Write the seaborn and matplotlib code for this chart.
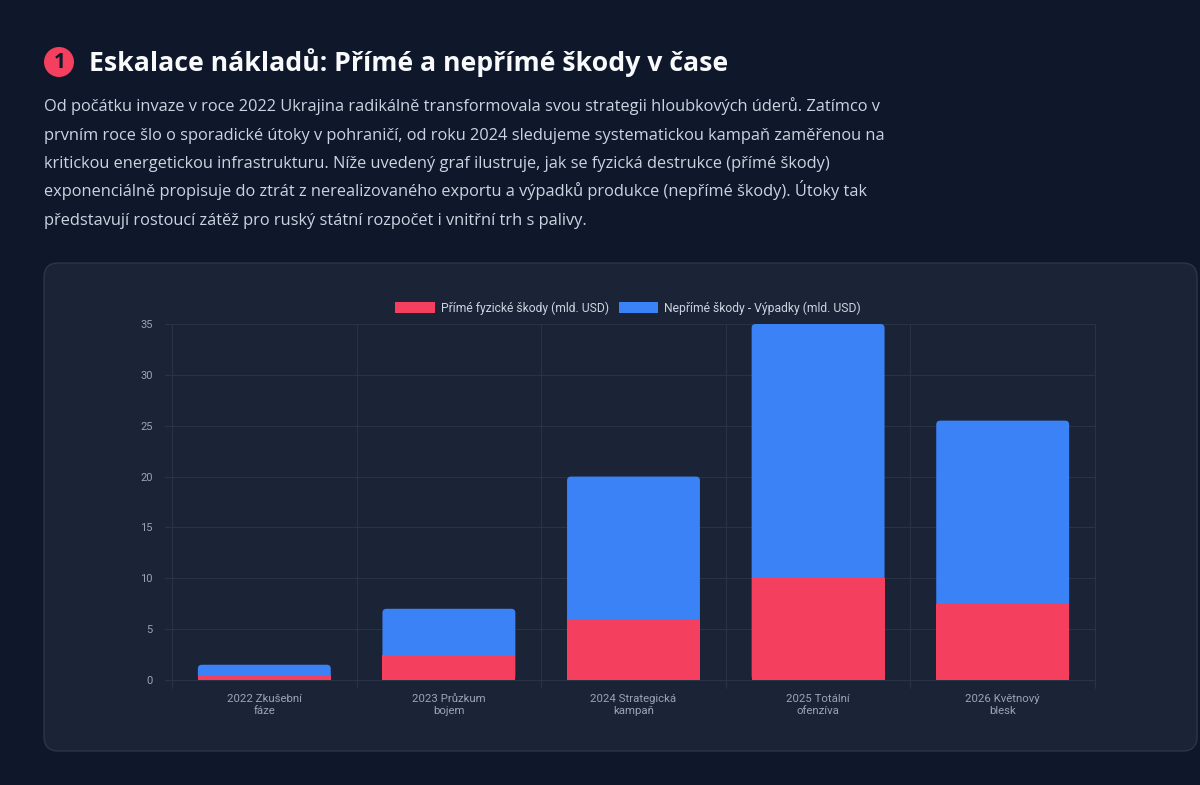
import matplotlib
matplotlib.use("Agg")
import matplotlib.pyplot as plt
from matplotlib.patches import FancyBboxPatch, Ellipse, Patch
import seaborn as sns
import pandas as pd
import numpy as np

categories = ["2022 Zkušební\nfáze", "2023 Průzkum\nbojem", "2024 Strategická\nkampaň",
              "2025 Totální\nofenzíva", "2026 Květnový\nblesk"]
direct = [0.5, 2.5, 6.0, 10.0, 7.5]
indirect = [1.0, 4.5, 14.0, 25.0, 18.0]
series_names = ["Přímé fyzické škody (mld. USD)", "Nepřímé škody - Výpadky (mld. USD)"]
y_ticks = [0, 5, 10, 15, 20, 25, 30, 35]

title = "Eskalace nákladů: Přímé a nepřímé škody v čase"
paragraph = [
    "Od počátku invaze v roce 2022 Ukrajina radikálně transformovala svou strategii hloubkových úderů. Zatímco v",
    "prvním roce šlo o sporadické útoky v pohraničí, od roku 2024 sledujeme systematickou kampaň zaměřenou na",
    "kritickou energetickou infrastrukturu. Níže uvedený graf ilustruje, jak se fyzická destrukce (přímé škody)",
    "exponenciálně propisuje do ztrát z nerealizovaného exportu a výpadků produkce (nepřímé škody). Útoky tak",
    "představují rostoucí zátěž pro ruský státní rozpočet i vnitřní trh s palivy.",
]

RED = "#f43f5e"
BLUE = "#3b82f6"
BG = "#0f172a"
CARD = "#1b2436"
GRID = "#283346"
TICK = "#9aa4b5"

sns.set_theme(style="dark")
plt.rcParams["font.family"] = ["Roboto", "DejaVu Sans"]

W, H = 1200, 785
fig = plt.figure(figsize=(12, 7.85), dpi=100, facecolor=BG)

def fx(px):
    return px / W

def fy(py):
    return 1 - py / H

# card
card = FancyBboxPatch((fx(44), fy(751)), fx(1197) - fx(44), fy(263) - fy(751),
                      boxstyle="round,pad=0,rounding_size=0.012",
                      transform=fig.transFigure, facecolor=CARD, edgecolor="#2b364a",
                      linewidth=1.0, zorder=0, mutation_aspect=W / H)
fig.patches.append(card)

# title with circled number
circ = Ellipse((fx(59), fy(62)), width=30 / W, height=30 / H, transform=fig.transFigure,
               facecolor=RED, edgecolor="none", zorder=2)
fig.patches.append(circ)
fig.text(fx(59.5), fy(63), "1", ha="center", va="center", color=BG,
         fontsize=15, fontweight="bold", family=["Open Sans", "DejaVu Sans"])
fig.text(fx(89), fy(71), title, ha="left", va="baseline", color="#f8fafc",
         fontsize=19.2, fontweight="bold", family=["Open Sans", "DejaVu Sans"])

for i, line in enumerate(paragraph):
    fig.text(fx(44), fy(111 + i * 28.5), line, ha="left", va="baseline", color="#cbd5e1",
             fontsize=11.75, family=["Open Sans", "DejaVu Sans"])

# chart axes
ax_left, ax_right, ax_top, ax_bottom = 172, 1095, 324, 680
ax = fig.add_axes([fx(ax_left), fy(ax_bottom), fx(ax_right) - fx(ax_left), fy(ax_top) - fy(ax_bottom)])
ax.set_facecolor("none")
ax.set_zorder(3)

df = pd.DataFrame({"cat": categories, "direct": direct, "indirect": indirect})
df["total"] = df["direct"] + df["indirect"]

sns.barplot(data=df, x="cat", y="total", color=BLUE, width=0.72, ax=ax,
            saturation=1, zorder=3, edgecolor="none", linewidth=0)
n_blue = len(ax.patches)
sns.barplot(data=df, x="cat", y="direct", color=RED, width=0.72, ax=ax,
            saturation=1, zorder=4, edgecolor="none", linewidth=0)

ax.set_xlim(-0.5, len(categories) - 0.5)
ax.set_ylim(0, 35)

# rounded top corners on the stacked bars (radius ~4 px)
px_per_x = (ax_right - ax_left) / len(categories)
px_per_y = (ax_bottom - ax_top) / 35.0
rad = 4.0 / px_per_x
for p in list(ax.patches)[:n_blue]:
    x0, y0 = p.get_x(), p.get_y()
    w, h = p.get_width(), p.get_height()
    p.set_visible(False)
    rp = FancyBboxPatch((x0, y0), w, h, boxstyle=f"round,pad=0,rounding_size={rad}",
                        mutation_aspect=px_per_x / px_per_y, facecolor=BLUE,
                        edgecolor="none", zorder=3)
    ax.add_patch(rp)

ax.set_yticks(y_ticks)
ax.set_xlabel("")
ax.set_ylabel("")
for s in ax.spines.values():
    s.set_visible(False)
ax.grid(False)
for yv in y_ticks:
    ax.plot([-0.5 - 0.04, len(categories) - 0.5], [yv, yv], color=GRID, lw=0.8,
            zorder=1, clip_on=False)
for xv in np.arange(-0.5, len(categories), 1.0):
    ax.plot([xv, xv], [-0.75, 35], color=GRID, lw=0.8, zorder=1, clip_on=False)

ax.tick_params(axis="y", colors=TICK, labelsize=8, length=0, pad=14)
ax.tick_params(axis="x", colors=TICK, labelsize=8.2, length=0, pad=10)
for lab in ax.get_xticklabels():
    lab.set_linespacing(1.3)

if ax.get_legend() is not None:
    ax.get_legend().remove()
handles = [Patch(facecolor=RED, edgecolor="none"), Patch(facecolor=BLUE, edgecolor="none")]
leg = fig.legend(handles, series_names,
                 loc="center", bbox_to_anchor=(fx(628), fy(308)), ncol=2,
                 frameon=False, fontsize=8.7, handlelength=3.3, handleheight=1.0,
                 handletextpad=0.45, columnspacing=0.8, labelcolor="#cbd5e1")

fig.savefig("out.png", dpi=100, facecolor=BG)
